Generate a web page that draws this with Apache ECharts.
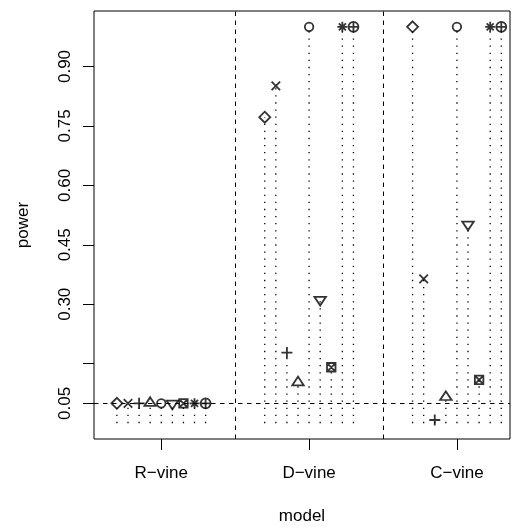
<!DOCTYPE html>
<html>
<head>
<meta charset="utf-8">
<script src="https://cdn.jsdelivr.net/npm/echarts@6/dist/echarts.min.js"></script>
<style>
html,body{margin:0;padding:0;background:#fff;}
#chart{width:513px;height:529px;}
</style>
</head>
<body>
<div id="chart"></div>
<script>
// ---- data ----
const categories = ['R\u2212vine', 'D\u2212vine', 'C\u2212vine'];
// one value per test (9 tests), in the order of the plotting symbols
const rvinePower = [0.05, 0.05, 0.05, 0.05, 0.05, 0.05, 0.05, 0.05, 0.05];
const dvinePower = [0.772, 0.851, 0.178, 0.102, 1.0, 0.312, 0.141, 1.0, 1.0];
const cvinePower = [1.0, 0.364, 0.008, 0.065, 1.0, 0.502, 0.109, 1.0, 1.0];
const yTicks = [0.05, 0.15, 0.30, 0.45, 0.60, 0.75, 0.90];
const yTickLabels = [0.05, 0.30, 0.45, 0.60, 0.75, 0.90];
const refLevel = 0.05;
const separators = [1.5, 2.5];

// ---- styles ----
const FONT = 'Liberation Sans, Arial, Helvetica, sans-serif';
const symbols = [
  {symbol: 'path://M5,0L10,5L5,10L0,5Z', size: 11, offset: [0, 0]},                 // diamond
  {symbol: 'path://M0,0L10,10M10,0L0,10', size: 8.5, offset: [0, 0]},                // x
  {symbol: 'path://M5,0L5,10M0,5L10,5', size: 11, offset: [0, 0]},                   // +
  {symbol: 'path://M5,0L10,8.66L0,8.66Z', size: [11.5, 10], offset: [0, -1.7]},       // triangle up
  {symbol: 'circle', size: 8.5, offset: [0, 0]},                                     // circle
  {symbol: 'path://M0,0L10,0L5,8.66Z', size: [11.5, 10], offset: [0, 1.7]},          // triangle down
  {symbol: 'path://M0,0L10,0L10,10L0,10ZM0,0L10,10M10,0L0,10', size: 8.5, offset: [0, 0]}, // boxed x
  {symbol: 'path://M5,0L5,10M0,5L10,5M1.5,1.5L8.5,8.5M8.5,1.5L1.5,8.5', size: 10, offset: [0, 0]}, // asterisk
  {symbol: 'path://M0,5A5,5 0 1,1 10,5A5,5 0 1,1 0,5ZM5,0L5,10M0,5L10,5', size: 10, offset: [0, 0]} // circle plus
];
const groupSpacing = 0.075;

const powerByModel = [rvinePower, dvinePower, cvinePower];
const allPoints = [];
const scatterSeries = symbols.map((s, j) => {
  const data = categories.map((c, i) => {
    const pt = [i + 1 + (j - 4) * groupSpacing, powerByModel[i][j]];
    allPoints.push(pt);
    return pt;
  });
  return {
    type: 'scatter',
    data: data,
    symbol: s.symbol,
    symbolSize: s.size,
    symbolOffset: s.offset,
    symbolKeepAspect: true,
    itemStyle: {color: 'rgba(0,0,0,0)', borderColor: '#000', borderWidth: 1.8},
    emphasis: {disabled: true},
    z: 5
  };
});

const stemSeries = {
  type: 'custom',
  data: allPoints,
  silent: true,
  z: 2,
  renderItem: function (params, api) {
    const p0 = api.coord([api.value(0), 0]);
    const p1 = api.coord([api.value(0), api.value(1)]);
    return {
      type: 'line',
      shape: {x1: p0[0], y1: p0[1], x2: p1[0], y2: p1[1]},
      style: {stroke: '#000', lineWidth: 1.3, lineDash: [1.3, 5.8]}
    };
  }
};

const refSeries = {
  type: 'line',
  data: [],
  silent: true,
  markLine: {
    silent: true,
    symbol: 'none',
    label: {show: false},
    lineStyle: {color: '#000', width: 1, type: [4.5, 4.5]},
    data: [{yAxis: refLevel}].concat(separators.map(v => ({xAxis: v})))
  }
};

const chart = echarts.init(document.getElementById('chart'));
chart.setOption({
  animation: false,
  backgroundColor: '#fff',
  grid: {left: 94, right: 3, top: 11, bottom: 90, containLabel: false, outerBoundsMode: 'none',
         show: true, borderColor: '#000', borderWidth: 1, backgroundColor: 'rgba(0,0,0,0)'},
  xAxis: {
    type: 'value',
    min: 0.545,
    max: 3.359,
    name: 'model',
    nameLocation: 'middle',
    nameGap: 69,
    nameTextStyle: {fontFamily: FONT, fontSize: 17, color: '#000'},
    splitLine: {show: false},
    axisLine: {show: false, onZero: false},
    axisTick: {show: true, length: 11, lineStyle: {color: '#000'}, customValues: [1, 2, 3]},
    axisLabel: {
      fontFamily: FONT, fontSize: 17, color: '#000', margin: 26,
      customValues: [1, 2, 3],
      formatter: v => categories[Math.round(v) - 1]
    }
  },
  yAxis: {
    type: 'value',
    min: -0.04,
    max: 1.04,
    name: 'power',
    nameLocation: 'middle',
    nameGap: 62,
    nameRotate: 90,
    nameTextStyle: {fontFamily: FONT, fontSize: 17, color: '#000'},
    splitLine: {show: false},
    axisLine: {show: false, onZero: false},
    axisTick: {show: true, length: 11, lineStyle: {color: '#000'}, customValues: yTicks},
    axisLabel: {
      fontFamily: FONT, fontSize: 17, color: '#000', margin: 20, rotate: 90,
      customValues: yTickLabels,
      formatter: v => v.toFixed(2)
    }
  },
  series: [stemSeries, refSeries].concat(scatterSeries)
});
</script>
</body>
</html>
